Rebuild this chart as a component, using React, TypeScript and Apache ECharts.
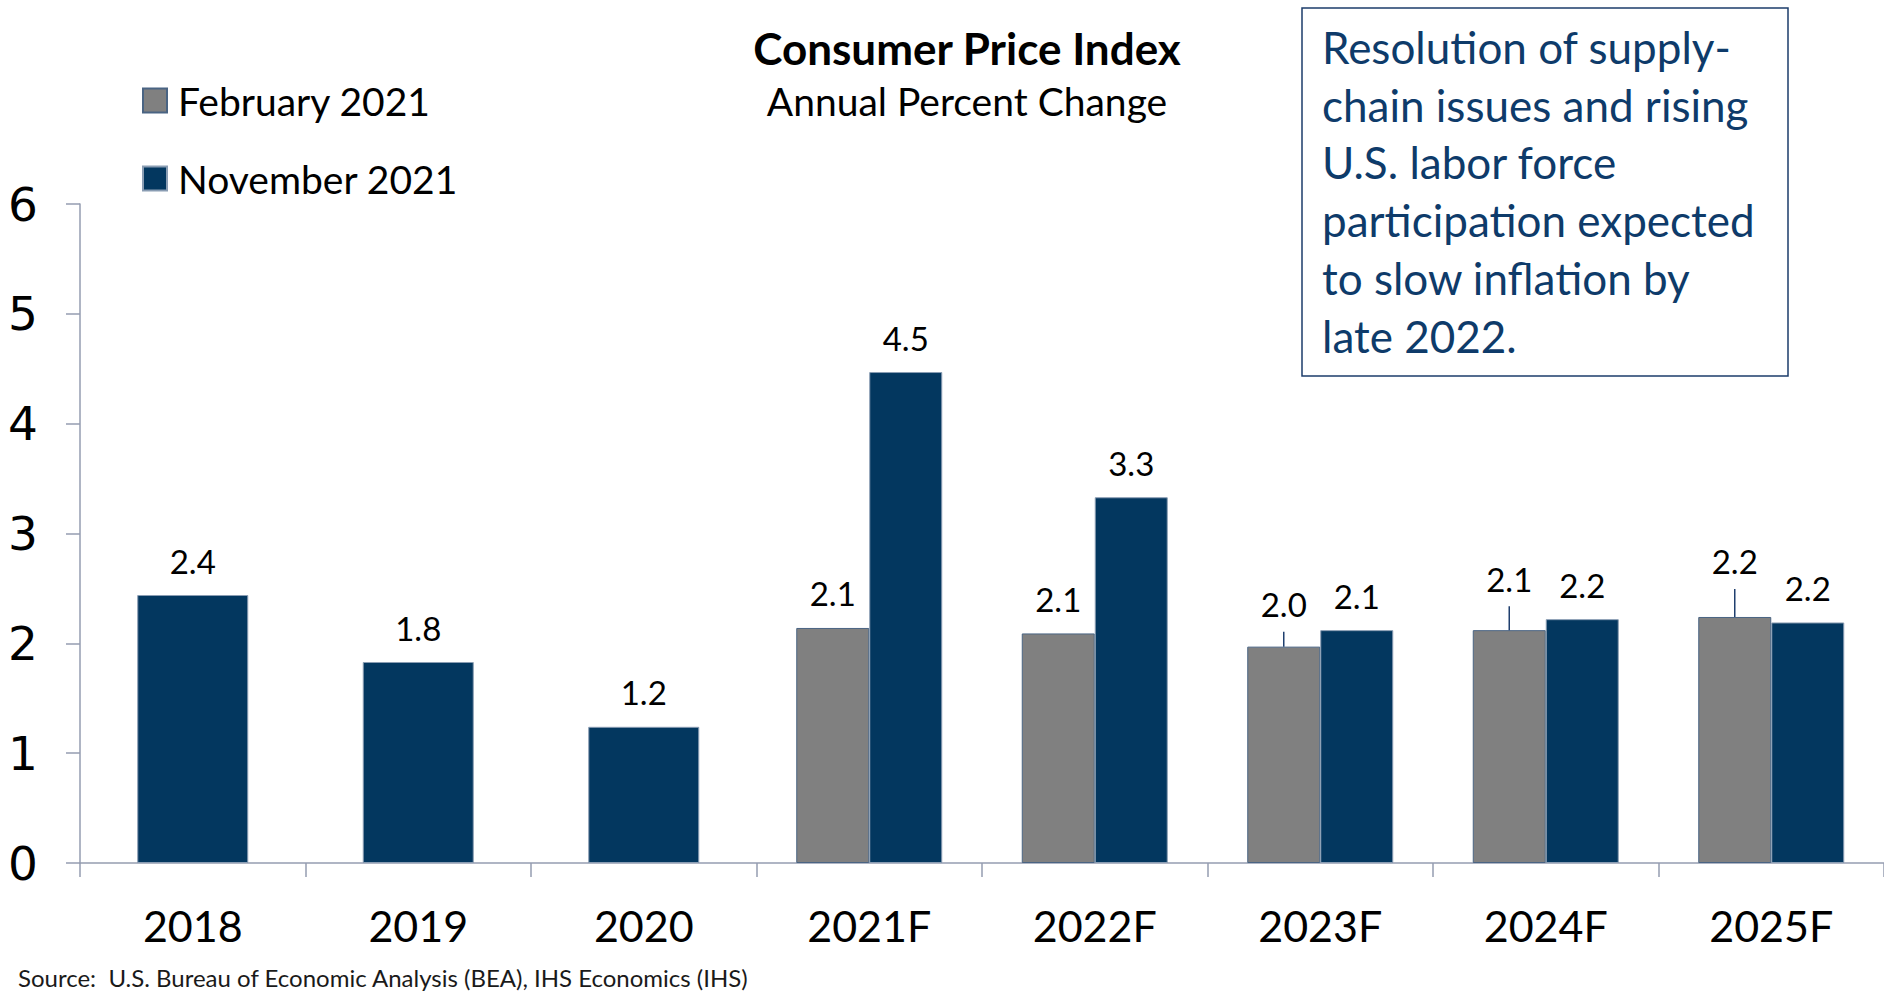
import React, { useEffect, useRef } from 'react';
import * as echarts from 'echarts';

const categories = ['2018', '2019', '2020', '2021F', '2022F', '2023F', '2024F', '2025F'];
const actualValues = [2.44, 1.83, 1.24, null, null, null, null, null];
const febForecast = [null, null, null, 2.14, 2.09, 1.97, 2.12, 2.24];
const novForecast = [null, null, null, 4.47, 3.33, 2.12, 2.22, 2.19];
const yMin = 0;
const yMax = 6;
const yStep = 1;

const titleText = 'Consumer Price Index';
const subtitleText = 'Annual Percent Change';
const noteLines = [
  'Resolution of supply-',
  'chain issues and rising',
  'U.S. labor force',
  'participation expected',
  'to slow inflation by',
  'late 2022.',
];
const sourceText = 'Source:  U.S. Bureau of Economic Analysis (BEA), IHS Economics (IHS)';

// layout (not data)
const febLabelLift = [0, 0, 0, 0, 0, 8, 17, 21];
const FONT = 'Lato, "Noto Sans", sans-serif';
const NAVY = '#03375f';
const GREY = '#808080';
const AXIS = '#959db0';
const BAR_W = 73;
const HIST_W = 111;

export default function App() {
  const ref = useRef<HTMLDivElement>(null);

  useEffect(() => {
    const chart = echarts.init(ref.current as HTMLDivElement, null, { renderer: 'svg' });
    const fmt = (p: any) => (p.value == null ? '' : Number(p.value).toFixed(1));
    const labelCommon = {
      show: true,
      position: 'top',
      distance: 18,
      fontFamily: FONT,
      fontSize: 33,
      color: '#000',
      formatter: fmt,
    };
    const leaderData = febForecast
      .map((v, i) => [i, v, febLabelLift[i]])
      .filter((d) => d[1] != null && (d[2] as number) > 0);

    const option: any = {
      animation: false,
      backgroundColor: '#ffffff',
      grid: { left: 80, right: 0, top: 204, bottom: 131, containLabel: false },
      legend: {
        orient: 'vertical',
        left: 142,
        top: 81,
        padding: 0,
        itemWidth: 24,
        itemHeight: 24,
        itemGap: 39,
        icon: 'rect',
        data: ['February 2021', 'November 2021'],
        textStyle: { fontFamily: FONT, fontSize: 39, color: '#000', padding: [0, 0, 0, 6] },
      },
      xAxis: [
        {
          type: 'category',
          data: categories,
          axisLine: { lineStyle: { color: AXIS, width: 1.5 } },
          axisTick: { show: true, length: 14, lineStyle: { color: AXIS, width: 1.5 } },
          axisLabel: { fontFamily: FONT, fontSize: 43, color: '#000', margin: 41 },
        },
        { type: 'category', data: categories, show: false },
      ],
      yAxis: {
        type: 'value',
        min: yMin,
        max: yMax,
        interval: yStep,
        axisLine: { show: true, lineStyle: { color: AXIS, width: 1.5 } },
        axisTick: { show: true, length: 14, lineStyle: { color: AXIS, width: 1.5 } },
        splitLine: { show: false },
        axisLabel: { fontFamily: '"DejaVu Sans", Verdana, sans-serif', fontSize: 47, color: '#000', margin: 42 },
      },
      series: [
        {
          type: 'bar',
          name: 'February 2021',
          xAxisIndex: 0,
          data: febForecast,
          barWidth: BAR_W,
          barGap: '0%',
          itemStyle: { color: GREY, borderColor: '#4a6483', borderWidth: 1 },
          label: labelCommon,
          labelLayout: (params: any) => {
            const lift = febLabelLift[params.dataIndex] || 0;
            return lift ? { dy: -lift } : {};
          },
        },
        {
          type: 'bar',
          name: 'November 2021',
          xAxisIndex: 0,
          data: novForecast,
          barWidth: BAR_W,
          barGap: '0%',
          itemStyle: { color: NAVY, borderColor: '#8a9db3', borderWidth: 1 },
          label: labelCommon,
        },
        {
          type: 'bar',
          name: 'November 2021',
          xAxisIndex: 1,
          data: actualValues,
          barWidth: HIST_W,
          itemStyle: { color: NAVY, borderColor: '#8a9db3', borderWidth: 1 },
          label: labelCommon,
        },
        {
          type: 'custom',
          name: 'leaders',
          xAxisIndex: 0,
          silent: true,
          z: 5,
          data: leaderData,
          encode: { x: 0, y: 1 },
          renderItem: (params: any, api: any) => {
            const pt = api.coord([api.value(0), api.value(1)]);
            const lift = api.value(2);
            const cx = pt[0] - BAR_W / 2;
            return {
              type: 'line',
              shape: { x1: cx, y1: pt[1], x2: cx, y2: pt[1] - lift - 7 },
              style: { stroke: '#1f3f6e', lineWidth: 1.5 },
            };
          },
        },
      ],
      graphic: [
        {
          type: 'text',
          x: 967,
          y: 48,
          style: { text: titleText, fontFamily: FONT, fontWeight: 'bold', fontSize: 44, fill: '#000', align: 'center', verticalAlign: 'middle' },
        },
        {
          type: 'text',
          x: 967,
          y: 101,
          style: { text: subtitleText, fontFamily: FONT, fontSize: 39, fill: '#000', align: 'center', verticalAlign: 'middle' },
        },
        {
          type: 'rect',
          shape: { x: 1302, y: 8, width: 486, height: 368 },
          style: { fill: '#fff', stroke: '#1c3d6b', lineWidth: 1.5 },
          z: 10,
        },
        ...noteLines.map((t, i) => ({
          type: 'text',
          x: 1322,
          y: 47 + i * 57.7,
          z: 11,
          style: { text: t, fontFamily: FONT, fontSize: 44, fill: '#0e3b6a', align: 'left', verticalAlign: 'middle' },
        })),
        {
          type: 'text',
          x: 18,
          y: 977,
          style: { text: sourceText, fontFamily: FONT, fontSize: 24, fill: '#1a1a1a', align: 'left', verticalAlign: 'middle' },
        },
      ],
    };
    chart.setOption(option);
    return () => chart.dispose();
  }, []);

  return (
    <div
      ref={ref}
      style={{ position: 'fixed', left: 0, top: 0, width: 1884, height: 994, background: '#fff' }}
    />
  );
}
